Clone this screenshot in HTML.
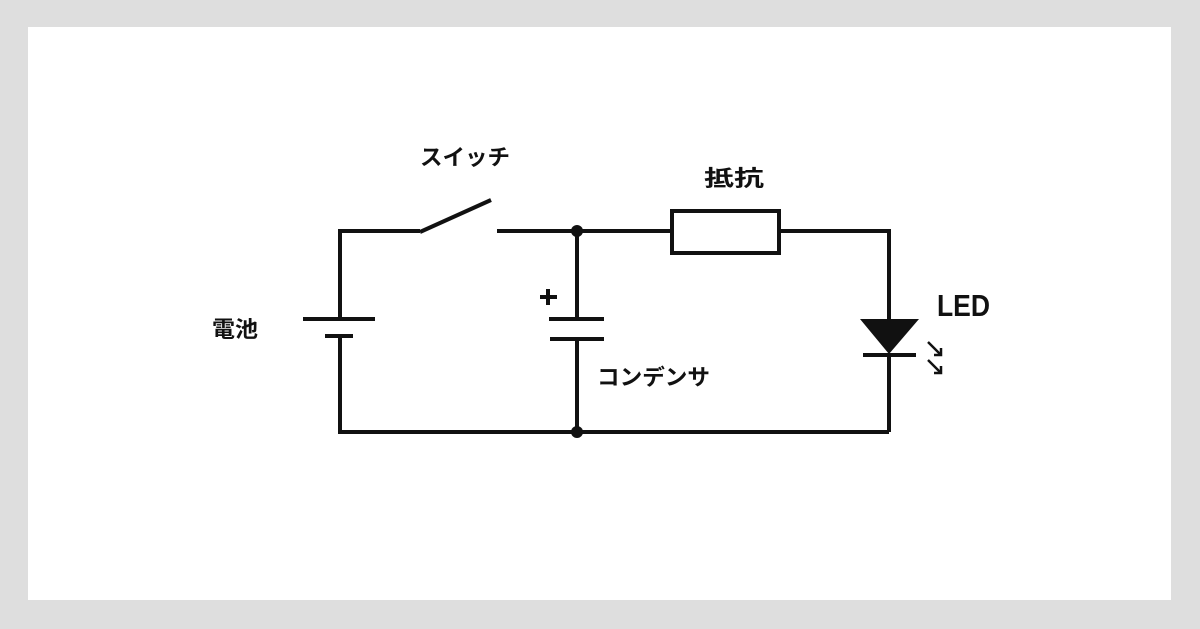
<!DOCTYPE html>
<html><head><meta charset="utf-8"><style>
html,body{margin:0;padding:0;background:#dedede;}
svg{display:block}
text{font-family:"Liberation Sans","Noto Sans CJK JP",sans-serif;font-weight:bold;fill:#111}
</style></head><body>
<svg width="1200" height="629" viewBox="0 0 1200 629" xmlns="http://www.w3.org/2000/svg">
<rect x="0" y="0" width="1200" height="629" fill="#dedede"/>
<rect x="28" y="27" width="1143" height="573" fill="#fff"/>
<g stroke="#111" stroke-width="4" fill="none" stroke-linecap="butt">
<polyline points="420,231 340,231 340,319"/>
<line x1="420" y1="232" x2="491" y2="200"/>
<polyline points="497,231 670,231"/>
<line x1="577" y1="231" x2="577" y2="319"/>
<rect x="672" y="211" width="107" height="42"/>
<polyline points="780,231 889,231 889,320"/>
<line x1="889" y1="353" x2="889" y2="432"/>
<polyline points="340,337 340,432 889,432"/>
<line x1="577" y1="339" x2="577" y2="432"/>
<line x1="303" y1="319" x2="375" y2="319"/>
<line x1="325" y1="336" x2="353" y2="336"/>
<line x1="549" y1="319" x2="604" y2="319"/>
<line x1="550" y1="339" x2="604" y2="339"/>
<line x1="863" y1="355" x2="916" y2="355"/>
<line x1="548" y1="289" x2="548" y2="305"/>
<line x1="540" y1="297" x2="557" y2="297"/>
<g stroke-width="2.5">
<line x1="928" y1="342" x2="941" y2="355"/><polyline points="934,355 941,355 941,348"/>
<line x1="928" y1="360" x2="941" y2="373"/><polyline points="934,373 941,373 941,366"/>
</g>
</g>
<polygon points="860,319 919,319 889,354" fill="#111"/>
<circle cx="577" cy="231" r="6" fill="#111"/>
<circle cx="577" cy="432" r="6" fill="#111"/>
<text x="420" y="165" font-size="22" textLength="90" lengthAdjust="spacingAndGlyphs">スイッチ</text>
<text x="704" y="186" font-size="22" textLength="60" lengthAdjust="spacingAndGlyphs">抵抗</text>
<text x="212" y="337" font-size="22" textLength="46" lengthAdjust="spacingAndGlyphs">電池</text>
<text x="597" y="385" font-size="22" textLength="113" lengthAdjust="spacingAndGlyphs">コンデンサ</text>
<text x="937" y="316" font-size="31" font-weight="normal" textLength="53" lengthAdjust="spacingAndGlyphs">LED</text>
</svg>
</body></html>
